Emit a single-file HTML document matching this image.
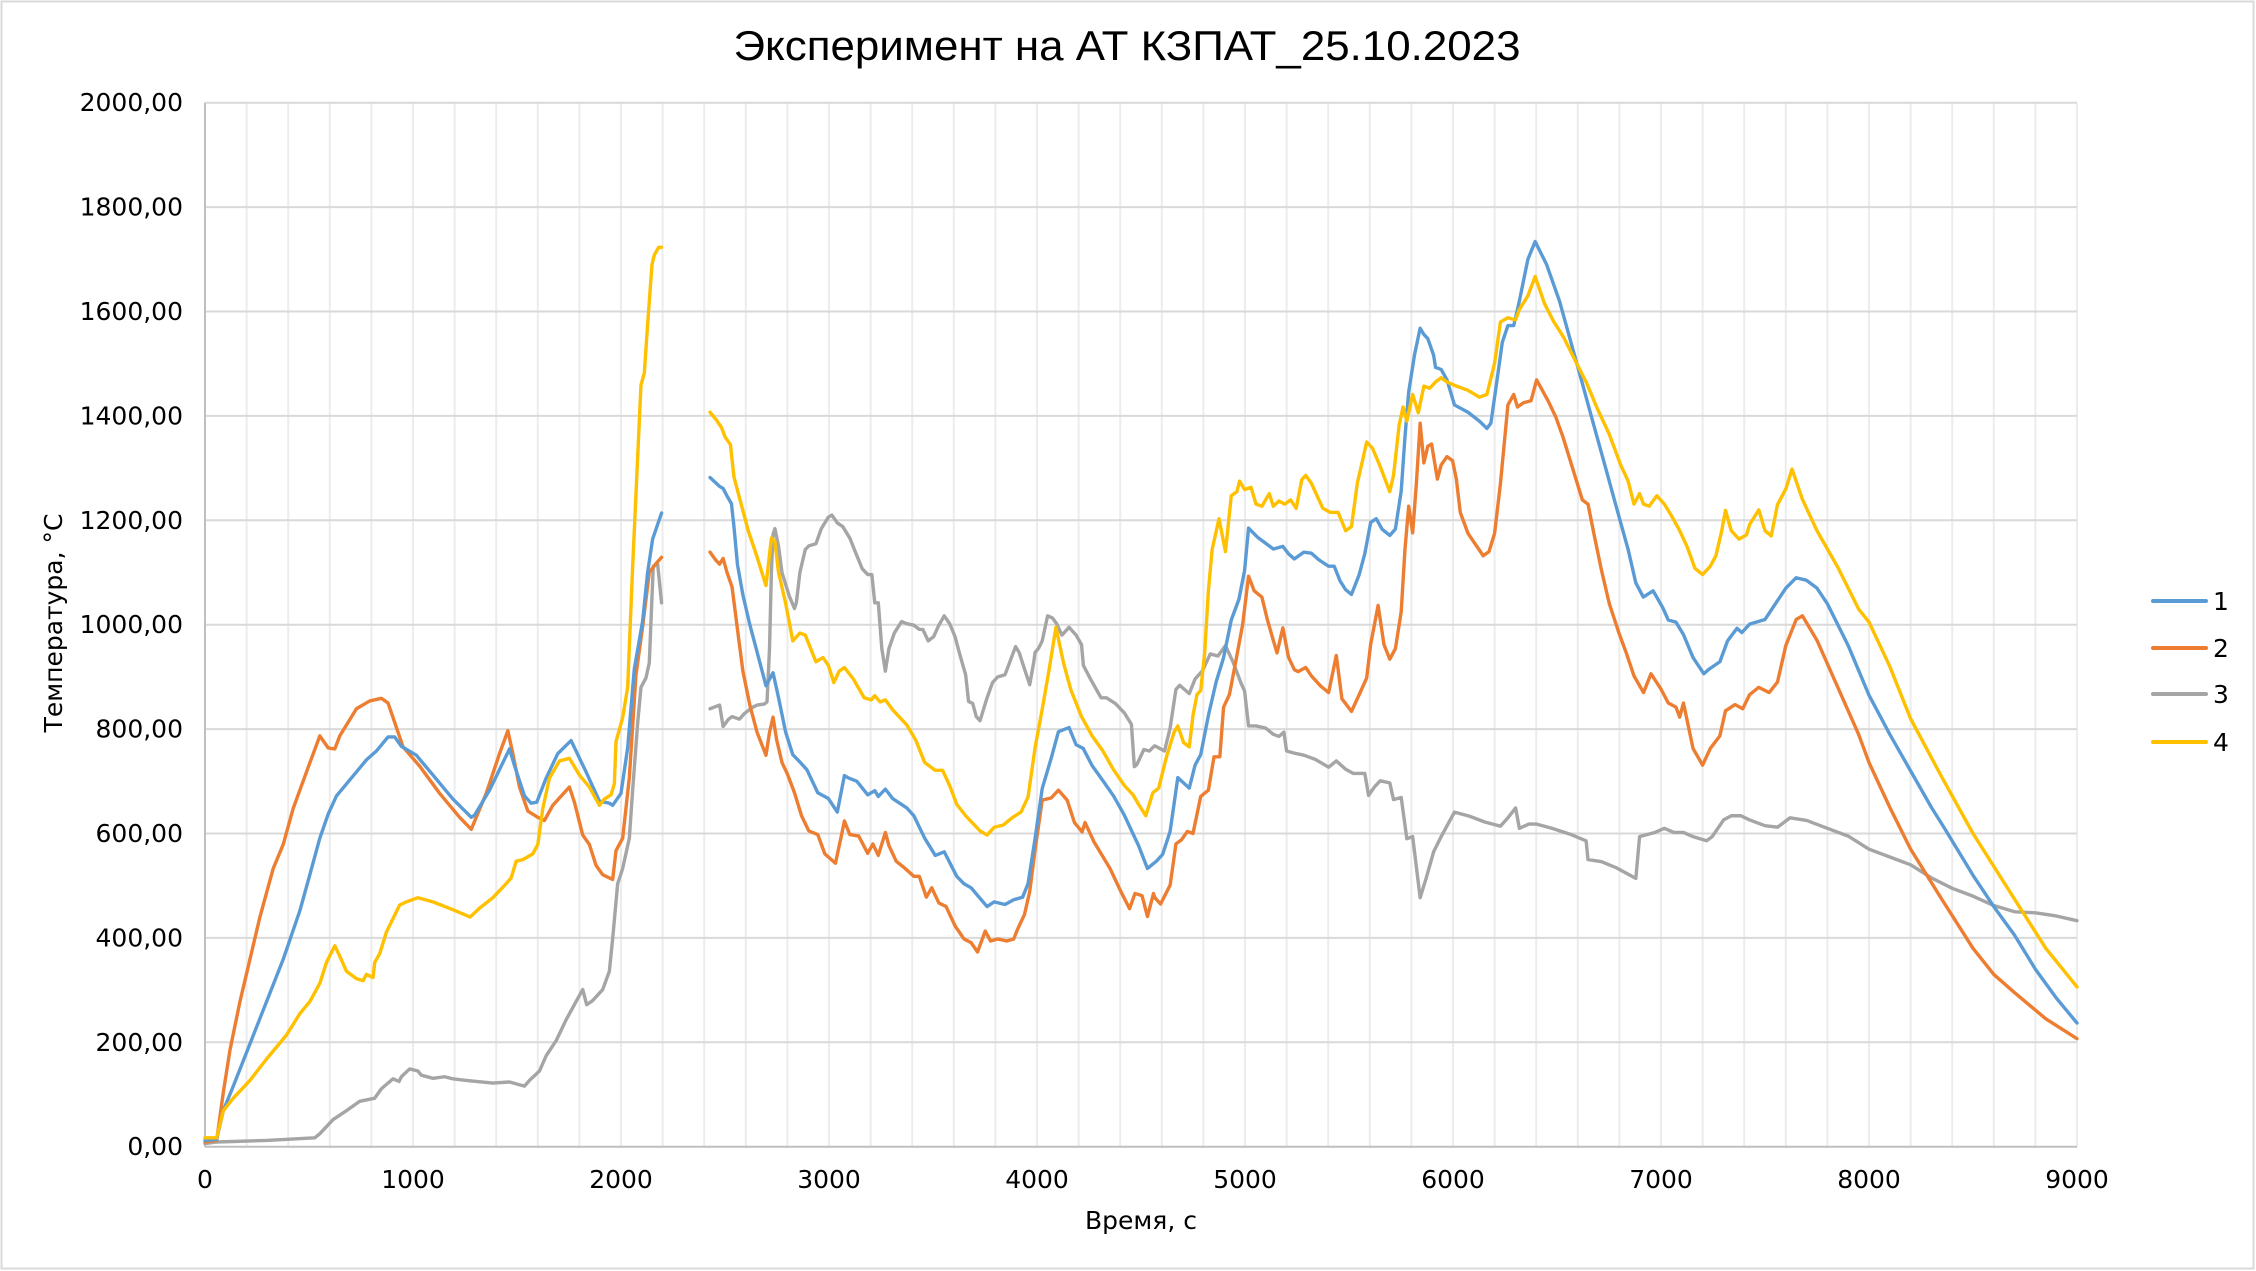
<!DOCTYPE html>
<html><head><meta charset="utf-8"><style>html,body{margin:0;padding:0;background:#fff}svg{display:block}</style></head><body>
<svg width="2256" height="1271" viewBox="0 0 2256 1271" xmlns="http://www.w3.org/2000/svg" font-family="'DejaVu Sans','Liberation Sans',sans-serif">
<rect x="1.5" y="1.5" width="2252" height="1267" fill="#fff" stroke="#d9d9d9" stroke-width="2"/>
<g stroke="#ececec" stroke-width="2">
<line x1="246.6" y1="102.7" x2="246.6" y2="1146.7"/><line x1="288.2" y1="102.7" x2="288.2" y2="1146.7"/><line x1="329.8" y1="102.7" x2="329.8" y2="1146.7"/><line x1="371.4" y1="102.7" x2="371.4" y2="1146.7"/><line x1="413" y1="102.7" x2="413" y2="1146.7"/><line x1="454.6" y1="102.7" x2="454.6" y2="1146.7"/><line x1="496.2" y1="102.7" x2="496.2" y2="1146.7"/><line x1="537.8" y1="102.7" x2="537.8" y2="1146.7"/><line x1="579.4" y1="102.7" x2="579.4" y2="1146.7"/><line x1="621" y1="102.7" x2="621" y2="1146.7"/><line x1="662.6" y1="102.7" x2="662.6" y2="1146.7"/><line x1="704.2" y1="102.7" x2="704.2" y2="1146.7"/><line x1="745.8" y1="102.7" x2="745.8" y2="1146.7"/><line x1="787.4" y1="102.7" x2="787.4" y2="1146.7"/><line x1="829" y1="102.7" x2="829" y2="1146.7"/><line x1="870.6" y1="102.7" x2="870.6" y2="1146.7"/><line x1="912.2" y1="102.7" x2="912.2" y2="1146.7"/><line x1="953.8" y1="102.7" x2="953.8" y2="1146.7"/><line x1="995.4" y1="102.7" x2="995.4" y2="1146.7"/><line x1="1037" y1="102.7" x2="1037" y2="1146.7"/><line x1="1078.6" y1="102.7" x2="1078.6" y2="1146.7"/><line x1="1120.2" y1="102.7" x2="1120.2" y2="1146.7"/><line x1="1161.8" y1="102.7" x2="1161.8" y2="1146.7"/><line x1="1203.4" y1="102.7" x2="1203.4" y2="1146.7"/><line x1="1245" y1="102.7" x2="1245" y2="1146.7"/><line x1="1286.6" y1="102.7" x2="1286.6" y2="1146.7"/><line x1="1328.2" y1="102.7" x2="1328.2" y2="1146.7"/><line x1="1369.8" y1="102.7" x2="1369.8" y2="1146.7"/><line x1="1411.4" y1="102.7" x2="1411.4" y2="1146.7"/><line x1="1453" y1="102.7" x2="1453" y2="1146.7"/><line x1="1494.6" y1="102.7" x2="1494.6" y2="1146.7"/><line x1="1536.2" y1="102.7" x2="1536.2" y2="1146.7"/><line x1="1577.8" y1="102.7" x2="1577.8" y2="1146.7"/><line x1="1619.4" y1="102.7" x2="1619.4" y2="1146.7"/><line x1="1661" y1="102.7" x2="1661" y2="1146.7"/><line x1="1702.6" y1="102.7" x2="1702.6" y2="1146.7"/><line x1="1744.2" y1="102.7" x2="1744.2" y2="1146.7"/><line x1="1785.8" y1="102.7" x2="1785.8" y2="1146.7"/><line x1="1827.4" y1="102.7" x2="1827.4" y2="1146.7"/><line x1="1869" y1="102.7" x2="1869" y2="1146.7"/><line x1="1910.6" y1="102.7" x2="1910.6" y2="1146.7"/><line x1="1952.2" y1="102.7" x2="1952.2" y2="1146.7"/><line x1="1993.8" y1="102.7" x2="1993.8" y2="1146.7"/><line x1="2035.4" y1="102.7" x2="2035.4" y2="1146.7"/><line x1="2077" y1="102.7" x2="2077" y2="1146.7"/>
</g>
<g stroke="#d9d9d9" stroke-width="2">
<line x1="205" y1="102.7" x2="2077" y2="102.7"/><line x1="205" y1="207.1" x2="2077" y2="207.1"/><line x1="205" y1="311.5" x2="2077" y2="311.5"/><line x1="205" y1="415.9" x2="2077" y2="415.9"/><line x1="205" y1="520.3" x2="2077" y2="520.3"/><line x1="205" y1="624.7" x2="2077" y2="624.7"/><line x1="205" y1="729.1" x2="2077" y2="729.1"/><line x1="205" y1="833.5" x2="2077" y2="833.5"/><line x1="205" y1="937.9" x2="2077" y2="937.9"/><line x1="205" y1="1042.3" x2="2077" y2="1042.3"/>
</g>
<g stroke="#bfbfbf" stroke-width="2"><line x1="205" y1="102.7" x2="205" y2="1146.7"/><line x1="205" y1="1146.7" x2="2077" y2="1146.7"/></g>

<g transform="translate(205,1146.7) scale(0.208,-0.522)" fill="none" stroke-width="3.4" stroke-linejoin="round" stroke-linecap="round">
<!-- gray -->
<polyline vector-effect="non-scaling-stroke" stroke="#A5A5A5" points="0,6 56,9 296,12 528,17 552,25 616,52 680,69 744,87 816,93 848,111 904,130 933,125 944,134 984,149 1024,145 1040,137 1096,131 1152,134 1192,130 1256,127 1384,122 1464,124 1536,116 1560,127 1608,145 1640,174 1688,203 1736,243 1784,278 1816,301 1835,272 1864,280 1912,301 1944,336 1960,399 1984,504 2008,533 2040,591 2056,683 2080,811 2096,880 2120,898 2136,927 2155,1112 2176,1117 2195,1042"/>
<polyline vector-effect="non-scaling-stroke" stroke="#A5A5A5" points="2428,839 2474,846 2491,805 2517,819 2534,824 2569,819 2594,830 2629,841 2654,846 2689,848 2702,852 2714,954 2723,1100 2731,1173 2740,1184 2757,1151 2774,1100 2808,1056 2834,1031 2843,1042 2860,1100 2886,1144 2903,1151 2937,1155 2963,1184 2997,1206 3014,1210 3040,1195 3066,1188 3100,1166 3126,1140 3160,1107 3186,1096 3206,1096 3220,1042 3237,1042 3254,954 3271,911 3288,954 3314,984 3349,1006 3374,1002 3408,999 3434,991 3451,991 3477,969 3503,977 3528,999 3554,1017 3580,1002 3606,977 3631,940 3657,904 3671,853 3691,849 3708,824 3726,816 3760,860 3786,889 3811,900 3846,904 3863,922 3897,958 3914,947 3940,915 3965,885 3983,925 3991,947 4008,955 4025,969 4051,1017 4074,1013 4094,1002 4120,980 4154,995 4188,980 4214,962 4223,922 4257,896 4308,860 4334,860 4377,849 4420,831 4454,809 4468,728 4480,732 4514,761 4540,758 4565,768 4576,766 4613,758 4640,802 4668,876 4686,884 4732,868 4760,896 4796,912 4833,944 4870,940 4906,960 4943,928 4980,889 4998,873 5017,806 5053,806 5099,802 5136,790 5163,786 5187,794 5200,758 5237,754 5283,750 5338,742 5402,727 5439,739 5484,723 5521,715 5576,715 5594,673 5622,689 5650,701 5696,697 5714,665 5751,669 5778,590 5806,594 5842,477 5870,513 5907,565 5943,594 6007,641 6080,633 6153,622 6228,614 6264,630 6301,649 6319,610 6365,618 6402,618 6475,610 6567,598 6640,586 6649,550 6714,546 6787,534 6879,514 6897,594 6934,598 6971,602 7016,610 7062,602 7108,602 7154,594 7219,586 7246,594 7301,626 7338,634 7384,634 7426,626 7500,615 7560,612 7620,630 7700,625 7800,610 7900,595 8000,570 8100,555 8200,540 8300,515 8400,495 8500,480 8600,462 8700,450 8800,448 8900,442 9000,433"/>
<!-- orange -->
<polyline vector-effect="non-scaling-stroke" stroke="#ED7D31" points="0,9 56,12 88,104 120,185 168,278 216,359 264,440 328,533 376,579 424,648 488,718 552,787 592,764 624,762 648,787 728,839 792,854 848,859 880,850 952,766 1032,729 1128,677 1224,631 1280,608 1352,677 1416,753 1456,797 1480,753 1512,689 1552,643 1600,631 1632,625 1672,654 1752,689 1776,660 1816,597 1848,579 1880,539 1912,521 1960,512 1976,567 2008,591 2040,707 2072,904 2104,996 2136,1100 2168,1117 2195,1129"/>
<polyline vector-effect="non-scaling-stroke" stroke="#ED7D31" points="2428,1139 2457,1123 2474,1116 2491,1127 2509,1101 2534,1072 2560,991 2586,911 2620,845 2654,794 2697,750 2714,794 2731,823 2748,780 2774,736 2800,714 2834,678 2868,634 2903,605 2946,598 2980,561 3031,543 3057,591 3074,624 3100,598 3143,595 3186,562 3211,580 3237,558 3271,602 3288,577 3323,547 3366,533 3408,518 3434,518 3468,478 3494,496 3528,467 3563,460 3606,423 3649,398 3683,391 3714,373 3751,413 3777,394 3811,398 3854,394 3888,398 3906,416 3940,445 3965,489 3991,569 4025,664 4068,668 4103,683 4145,664 4180,621 4217,603 4231,621 4274,584 4351,533 4403,489 4445,456 4471,485 4505,481 4531,441 4560,485 4567,477 4594,465 4640,501 4668,580 4695,588 4723,604 4750,600 4787,671 4824,683 4851,747 4879,747 4897,842 4925,866 4952,922 4989,1001 5017,1093 5044,1065 5081,1053 5108,1009 5136,970 5154,946 5182,994 5209,938 5237,914 5255,910 5292,918 5319,902 5365,882 5402,870 5439,941 5466,858 5512,834 5549,866 5585,898 5604,962 5640,1037 5668,962 5696,934 5723,954 5751,1025 5769,1144 5787,1227 5806,1176 5824,1271 5842,1386 5860,1310 5879,1342 5897,1346 5925,1279 5943,1306 5971,1322 5998,1314 6016,1279 6035,1215 6072,1175 6099,1159 6127,1143 6145,1132 6173,1140 6200,1175 6228,1270 6264,1421 6292,1441 6310,1417 6338,1425 6375,1429 6402,1469 6457,1429 6494,1398 6530,1358 6567,1310 6622,1239 6649,1231 6677,1175 6714,1104 6751,1041 6797,985 6833,946 6870,902 6916,870 6952,906 6998,878 7035,850 7072,842 7090,823 7108,850 7154,763 7200,731 7237,763 7283,787 7310,835 7356,847 7393,839 7426,866 7470,880 7520,870 7560,890 7600,960 7650,1010 7680,1017 7750,970 7850,880 7950,790 8000,736 8100,650 8200,570 8350,474 8500,380 8600,330 8700,295 8850,245 9000,207"/>
<!-- blue -->
<polyline vector-effect="non-scaling-stroke" stroke="#5B9BD5" points="0,12 56,14 88,69 136,116 216,197 296,278 376,359 456,452 504,521 552,591 592,637 632,672 680,695 728,718 776,741 824,758 880,785 912,785 944,767 1016,750 1096,712 1192,666 1280,631 1296,635 1368,683 1464,762 1488,730 1536,672 1568,658 1595,660 1640,706 1696,753 1760,778 1784,758 1832,718 1896,662 1944,658 1960,654 2000,677 2032,764 2064,915 2104,1007 2128,1100 2152,1164 2195,1214"/>
<polyline vector-effect="non-scaling-stroke" stroke="#5B9BD5" points="2428,1282 2474,1265 2491,1261 2509,1247 2531,1232 2543,1188 2560,1115 2586,1057 2620,999 2654,948 2697,883 2731,908 2757,861 2791,795 2826,751 2860,737 2894,722 2946,678 2997,667 3040,641 3074,711 3091,707 3134,700 3186,674 3220,682 3237,671 3271,685 3306,667 3374,649 3408,634 3460,591 3511,558 3554,565 3614,518 3648,504 3683,496 3760,460 3794,469 3846,464 3888,473 3931,478 3957,504 3991,591 4025,686 4068,744 4103,795 4154,803 4188,770 4222,763 4265,730 4317,701 4368,672 4420,635 4462,599 4488,577 4531,533 4574,547 4604,560 4640,604 4677,707 4732,687 4760,731 4787,751 4824,826 4861,890 4897,937 4934,1009 4971,1049 4998,1104 5017,1185 5062,1167 5099,1156 5136,1145 5182,1150 5209,1136 5237,1126 5283,1139 5319,1137 5356,1124 5402,1112 5429,1112 5457,1084 5484,1067 5512,1058 5549,1096 5576,1136 5604,1196 5631,1203 5659,1183 5696,1171 5723,1183 5751,1256 5769,1359 5787,1446 5815,1517 5842,1568 5860,1556 5879,1548 5907,1516 5916,1493 5943,1489 5971,1469 6007,1421 6072,1407 6127,1390 6163,1376 6182,1386 6209,1461 6237,1541 6264,1573 6292,1573 6310,1604 6319,1620 6360,1700 6395,1734 6450,1690 6512,1620 6567,1541 6622,1462 6677,1382 6732,1303 6787,1223 6842,1144 6879,1080 6915,1053 6962,1065 7008,1033 7035,1009 7072,1005 7108,981 7154,937 7206,906 7228,914 7283,929 7320,969 7365,993 7389,985 7426,1001 7500,1010 7550,1040 7600,1070 7650,1090 7700,1085 7750,1070 7800,1040 7900,960 8000,865 8100,790 8200,720 8300,650 8360,612 8500,520 8600,460 8700,405 8800,340 8900,285 9000,237"/>
<!-- yellow -->
<polyline vector-effect="non-scaling-stroke" stroke="#FFC000" points="0,17 56,17 88,69 136,93 216,127 296,168 392,214 456,255 504,278 552,313 584,353 624,385 648,365 680,336 728,322 760,318 776,330 808,324 816,353 840,370 872,411 936,463 968,469 1024,477 1096,469 1192,454 1275,440 1320,457 1384,477 1448,504 1472,515 1496,547 1528,550 1576,561 1600,579 1624,648 1656,706 1704,739 1752,744 1800,712 1848,689 1896,654 1920,666 1952,674 1968,695 1976,776 2008,822 2032,880 2056,1111 2080,1320 2096,1459 2112,1482 2128,1575 2149,1690 2160,1708 2181,1723 2195,1723"/>
<polyline vector-effect="non-scaling-stroke" stroke="#FFC000" points="2428,1407 2457,1393 2483,1378 2500,1360 2526,1345 2543,1283 2577,1232 2611,1181 2654,1130 2697,1075 2723,1166 2740,1159 2757,1101 2791,1042 2826,969 2860,984 2886,980 2911,955 2937,929 2971,937 2997,922 3023,889 3049,911 3074,918 3117,896 3169,860 3203,856 3220,864 3246,852 3271,856 3306,837 3374,808 3417,779 3460,736 3511,721 3546,721 3580,692 3614,656 3657,634 3700,616 3726,605 3760,597 3794,612 3837,616 3880,630 3923,641 3957,670 3991,765 4025,838 4060,918 4091,995 4128,926 4163,875 4214,824 4265,787 4317,758 4368,722 4420,692 4462,674 4488,656 4523,634 4557,678 4585,687 4622,746 4659,794 4677,806 4705,774 4732,766 4750,826 4769,866 4787,874 4806,945 4824,1065 4842,1144 4875,1203 4906,1140 4934,1247 4961,1255 4974,1275 4998,1259 5029,1263 5053,1231 5081,1227 5117,1251 5136,1227 5163,1237 5191,1231 5219,1239 5246,1223 5273,1278 5292,1286 5319,1271 5374,1223 5411,1215 5448,1215 5484,1180 5512,1188 5540,1271 5567,1318 5585,1350 5613,1338 5650,1303 5696,1255 5714,1286 5741,1382 5760,1417 5778,1390 5806,1441 5833,1406 5860,1457 5888,1453 5916,1465 5943,1473 5971,1465 6017,1457 6072,1449 6127,1436 6163,1441 6200,1501 6228,1580 6264,1588 6301,1584 6319,1604 6360,1630 6395,1667 6440,1615 6485,1580 6530,1552 6585,1508 6640,1465 6695,1413 6750,1366 6806,1306 6842,1275 6870,1231 6897,1251 6916,1231 6943,1227 6980,1247 7016,1231 7053,1207 7090,1180 7127,1148 7163,1108 7200,1096 7237,1112 7264,1132 7292,1180 7310,1219 7338,1180 7375,1164 7411,1172 7426,1192 7470,1220 7500,1180 7530,1170 7560,1230 7600,1260 7630,1298 7680,1240 7750,1180 7850,1110 7950,1030 8000,1005 8100,920 8200,820 8350,708 8500,600 8700,474 8850,380 9000,306"/>
</g>

<g font-size="25" fill="#000" text-anchor="end">
<text x="183" y="111">2000,00</text><text x="183" y="215.5">1800,00</text><text x="183" y="320">1600,00</text><text x="183" y="424.5">1400,00</text><text x="183" y="529">1200,00</text><text x="183" y="633">1000,00</text><text x="183" y="737.5">800,00</text><text x="183" y="842">600,00</text><text x="183" y="946.5">400,00</text><text x="183" y="1051">200,00</text><text x="183" y="1155">0,00</text>
</g>
<g font-size="25" fill="#000" text-anchor="middle">
<text x="205" y="1188">0</text><text x="413" y="1188">1000</text><text x="621" y="1188">2000</text><text x="829" y="1188">3000</text><text x="1037" y="1188">4000</text><text x="1245" y="1188">5000</text><text x="1453" y="1188">6000</text><text x="1661" y="1188">7000</text><text x="1869" y="1188">8000</text><text x="2077" y="1188">9000</text>
<text x="1141" y="1229">Время, с</text>
<text transform="translate(62,623) rotate(-90)">Температура, °C</text>
</g>
<text x="1127" y="60" font-size="42" text-anchor="middle" textLength="787" lengthAdjust="spacingAndGlyphs" font-family="'Liberation Sans',sans-serif">Эксперимент на АТ КЗПАТ_25.10.2023</text>

<g stroke-width="4" stroke-linecap="round">
<line x1="2153" y1="601" x2="2206" y2="601" stroke="#5B9BD5"/>
<line x1="2153" y1="648" x2="2206" y2="648" stroke="#ED7D31"/>
<line x1="2153" y1="694" x2="2206" y2="694" stroke="#A5A5A5"/>
<line x1="2153" y1="742" x2="2206" y2="742" stroke="#FFC000"/>
</g>
<g font-size="25" fill="#000">
<text x="2213" y="610">1</text><text x="2213" y="657">2</text><text x="2213" y="703">3</text><text x="2213" y="751">4</text>
</g>
</svg>
</body></html>
